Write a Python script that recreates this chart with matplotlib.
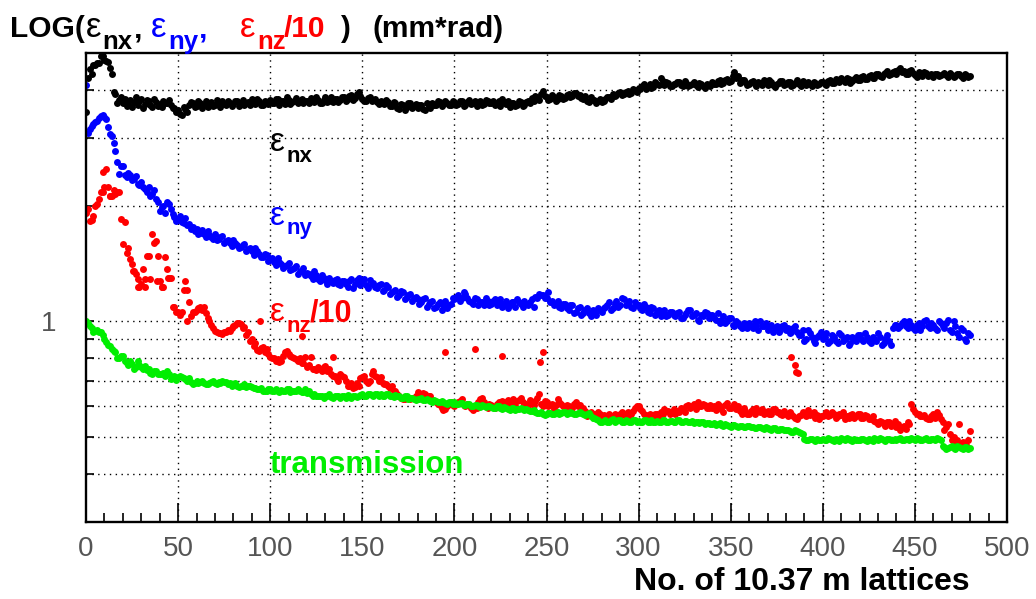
import numpy as np
import matplotlib
matplotlib.use('Agg')
import matplotlib.pyplot as plt
from matplotlib.ticker import FixedLocator, NullLocator, MultipleLocator

plt.rcParams['font.family'] = ['Liberation Sans', 'DejaVu Sans']

# lattice numbers: even and odd samples are kept in separate lists
lattice = np.arange(0, 481, 2)
lattice_odd = np.arange(1, 480, 2)

# normalised horizontal emittance (mm*rad)
eps_nx = [
    3.51, 4.55, 4.66, 4.72, 4.92, 4.80, 4.74, 4.40, 3.90, 3.78,
    3.70, 3.64, 3.78, 3.72, 3.66, 3.80, 3.69, 3.75, 3.62, 3.73,
    3.68, 3.76, 3.71, 3.65, 3.60, 3.55, 3.45, 3.58, 3.66, 3.70,
    3.64, 3.70, 3.67, 3.62, 3.72, 3.66, 3.69, 3.74, 3.65, 3.71,
    3.68, 3.76, 3.70, 3.66, 3.73, 3.79, 3.69, 3.74, 3.67, 3.72,
    3.77, 3.70, 3.80, 3.74, 3.68, 3.78, 3.72, 3.82, 3.75, 3.70,
    3.76, 3.81, 3.73, 3.78, 3.70, 3.83, 3.76, 3.72, 3.80, 3.77,
    3.84, 3.79, 3.88, 3.82, 3.96, 3.80, 3.74, 3.85, 3.78, 3.72,
    3.76, 3.69, 3.73, 3.64, 3.70, 3.58, 3.66, 3.62, 3.71, 3.63,
    3.60, 3.67, 3.56, 3.64, 3.70, 3.66, 3.73, 3.68, 3.71, 3.65,
    3.72, 3.68, 3.75, 3.66, 3.78, 3.70, 3.64, 3.74, 3.69, 3.76,
    3.71, 3.66, 3.74, 3.79, 3.68, 3.62, 3.70, 3.65, 3.72, 3.67,
    3.75, 3.81, 3.86, 3.78, 3.99, 3.83, 3.79, 3.84, 3.80, 3.86,
    3.82, 3.90, 3.86, 3.93, 3.88, 3.80, 3.76, 3.83, 3.78, 3.74,
    3.72, 3.79, 3.85, 3.92, 3.88, 3.95, 3.90, 3.97, 3.93, 4.00,
    4.06, 4.10, 4.03, 4.14, 4.08, 4.16, 4.31, 4.12, 4.18, 4.09,
    4.15, 4.21, 4.11, 4.18, 4.13, 4.20, 4.08, 4.16, 4.06, 4.12,
    4.20, 4.14, 4.24, 4.18, 4.28, 4.22, 4.47, 4.36, 4.25, 4.19,
    4.15, 4.22, 4.10, 4.18, 4.24, 4.13, 4.20, 4.08, 4.17, 4.22,
    4.14, 4.19, 4.12, 4.24, 4.09, 4.16, 4.21, 4.11, 4.18, 4.14,
    4.20, 4.12, 4.26, 4.17, 4.23, 4.30, 4.19, 4.27, 4.22, 4.33,
    4.26, 4.35, 4.29, 4.38, 4.31, 4.40, 4.34, 4.44, 4.37, 4.47,
    4.42, 4.58, 4.49, 4.41, 4.52, 4.38, 4.45, 4.36, 4.43, 4.39,
    4.34, 4.41, 4.37, 4.44, 4.32, 4.39, 4.35, 4.42, 4.30, 4.38,
    4.36,
]
eps_nx_odd = [
    4.30, 4.41, 4.64, 4.70, 4.90, 4.76, 4.58, 3.96, 3.70, 3.84,
    3.80, 3.68, 3.62, 3.84, 3.74, 3.60, 3.78, 3.66, 3.80, 3.64,
    3.62, 3.70, 3.78, 3.60, 3.52, 3.47, 3.62, 3.52, 3.72, 3.62,
    3.74, 3.60, 3.76, 3.70, 3.63, 3.78, 3.62, 3.68, 3.75, 3.64,
    3.74, 3.64, 3.78, 3.70, 3.66, 3.72, 3.80, 3.66, 3.76, 3.68,
    3.70, 3.80, 3.66, 3.76, 3.83, 3.68, 3.76, 3.70, 3.80, 3.76,
    3.70, 3.76, 3.84, 3.70, 3.78, 3.72, 3.84, 3.80, 3.72, 3.83,
    3.76, 3.86, 3.78, 3.92, 3.86, 3.76, 3.82, 3.74, 3.80, 3.68,
    3.70, 3.78, 3.64, 3.72, 3.60, 3.68, 3.56, 3.70, 3.60, 3.68,
    3.66, 3.58, 3.70, 3.60, 3.66, 3.74, 3.64, 3.74, 3.66, 3.74,
    3.66, 3.76, 3.64, 3.72, 3.68, 3.76, 3.70, 3.66, 3.78, 3.70,
    3.76, 3.70, 3.64, 3.72, 3.76, 3.70, 3.64, 3.76, 3.64, 3.72,
    3.70, 3.76, 3.82, 3.90, 3.86, 3.78, 3.88, 3.76, 3.88, 3.80,
    3.88, 3.84, 3.94, 3.86, 3.82, 3.86, 3.72, 3.78, 3.70, 3.80,
    3.76, 3.84, 3.80, 3.86, 3.94, 3.88, 3.95, 3.92, 4.02, 3.96,
    4.02, 4.14, 4.08, 4.06, 4.20, 4.12, 4.22, 4.20, 4.10, 4.16,
    4.20, 4.12, 4.22, 4.10, 4.16, 4.12, 4.18, 4.10, 4.16, 4.10,
    4.16, 4.22, 4.16, 4.26, 4.20, 4.36, 4.30, 4.18, 4.24, 4.12,
    4.20, 4.14, 4.20, 4.12, 4.20, 4.24, 4.12, 4.16, 4.22, 4.12,
    4.20, 4.10, 4.18, 4.16, 4.22, 4.12, 4.15, 4.20, 4.12, 4.20,
    4.16, 4.22, 4.18, 4.28, 4.20, 4.24, 4.30, 4.18, 4.28, 4.25,
    4.32, 4.28, 4.36, 4.30, 4.42, 4.36, 4.40, 4.48, 4.40, 4.50,
    4.52, 4.46, 4.40, 4.48, 4.44, 4.34, 4.40, 4.46, 4.36, 4.42,
    4.40, 4.36, 4.42, 4.38, 4.44, 4.34, 4.40, 4.36, 4.40, 4.34,
]

# normalised vertical emittance (mm*rad)
eps_ny = [
    4.13, 3.17, 3.27, 3.33, 3.43, 3.40, 3.20, 3.03, 2.78, 2.42,
    2.54, 2.38, 2.40, 2.35, 2.28, 2.30, 2.21, 2.24, 2.15, 2.08,
    1.94, 2.00, 2.05, 1.96, 1.87, 1.84, 1.81, 1.86, 1.79, 1.76,
    1.74, 1.70, 1.69, 1.72, 1.66, 1.69, 1.64, 1.67, 1.62, 1.60,
    1.63, 1.58, 1.56, 1.59, 1.54, 1.52, 1.55, 1.50, 1.47, 1.49,
    1.45, 1.43, 1.46, 1.41, 1.39, 1.42, 1.37, 1.39, 1.35, 1.38,
    1.34, 1.31, 1.35, 1.29, 1.32, 1.28, 1.30, 1.26, 1.29, 1.24,
    1.27, 1.23, 1.29, 1.25, 1.30, 1.27, 1.24, 1.28, 1.26, 1.22,
    1.25, 1.21, 1.23, 1.19, 1.21, 1.17, 1.19, 1.16, 1.18, 1.15,
    1.14, 1.12, 1.15, 1.11, 1.13, 1.09, 1.12, 1.10, 1.08, 1.11,
    1.14, 1.17, 1.15, 1.18, 1.13, 1.11, 1.14, 1.12, 1.10, 1.13,
    1.11, 1.14, 1.12, 1.09, 1.13, 1.10, 1.12, 1.14, 1.11, 1.13,
    1.10, 1.14, 1.16, 1.18, 1.17, 1.15, 1.12, 1.10, 1.13, 1.08,
    1.11, 1.07, 1.10, 1.06, 1.09, 1.05, 1.08, 1.03, 1.06, 1.08,
    1.06, 1.09, 1.12, 1.08, 1.13, 1.10, 1.14, 1.11, 1.09, 1.12,
    1.10, 1.07, 1.09, 1.05, 1.08, 1.06, 1.03, 1.07, 1.04, 1.06,
    1.03, 1.06, 1.02, 1.05, 1.07, 1.04, 1.01, 1.04, 1.06, 1.02,
    1.04, 1.01, 0.99, 1.03, 1.00, 1.02, 0.97, 0.99, 0.96, 0.98,
    0.99, 0.96, 0.98, 1.00, 0.97, 0.95, 0.98, 0.96, 0.94, 0.97,
    0.95, 0.93, 0.96, 0.94, 0.92, 0.89, 0.95, 0.91, 0.88, 0.92,
    0.90, 0.93, 0.89, 0.91, 0.88, 0.92, 0.90, 0.87, 0.91, 0.89,
    0.92, 0.89, 0.91, 0.88, 0.90, 0.93, 0.87, 0.90, 0.89, 0.96,
    0.98, 0.97, 1.00, 0.96, 0.98, 0.95, 0.99, 0.97, 1.01, 0.96,
    0.98, 0.95, 0.99, 0.96, 1.01, 0.94, 0.97, 0.91, 0.95, 0.89,
    0.92,
]
eps_ny_odd = [
    3.10, 3.22, 3.30, 3.38, 3.45, 3.37, 3.08, 2.92, 2.60, 2.54,
    2.40, 2.44, 2.34, 2.39, 2.26, 2.24, 2.17, 2.12, 2.20, 2.05,
    1.98, 1.92, 2.02, 1.90, 1.83, 1.88, 1.80, 1.78, 1.74, 1.72,
    1.69, 1.73, 1.66, 1.68, 1.64, 1.63, 1.66, 1.60, 1.63, 1.57,
    1.60, 1.55, 1.58, 1.52, 1.55, 1.49, 1.52, 1.47, 1.50, 1.44,
    1.46, 1.40, 1.43, 1.38, 1.40, 1.36, 1.38, 1.33, 1.35, 1.32,
    1.33, 1.29, 1.32, 1.27, 1.30, 1.25, 1.27, 1.28, 1.25, 1.27,
    1.25, 1.27, 1.22, 1.28, 1.24, 1.29, 1.22, 1.25, 1.23, 1.24,
    1.20, 1.24, 1.18, 1.20, 1.16, 1.20, 1.14, 1.17, 1.13, 1.16,
    1.11, 1.14, 1.09, 1.12, 1.08, 1.11, 1.07, 1.13, 1.10, 1.15,
    1.16, 1.13, 1.19, 1.15, 1.12, 1.15, 1.10, 1.12, 1.15, 1.10,
    1.13, 1.10, 1.14, 1.11, 1.08, 1.12, 1.09, 1.12, 1.09, 1.11,
    1.12, 1.09, 1.15, 1.17, 1.15, 1.19, 1.13, 1.11, 1.09, 1.11,
    1.08, 1.10, 1.05, 1.08, 1.04, 1.07, 1.05, 1.07, 1.04, 1.07,
    1.08, 1.10, 1.07, 1.11, 1.09, 1.15, 1.10, 1.13, 1.08, 1.10,
    1.08, 1.11, 1.06, 1.09, 1.04, 1.07, 1.05, 1.03, 1.06, 1.04,
    1.05, 1.02, 1.04, 1.07, 1.03, 1.05, 1.00, 1.03, 1.05, 1.04,
    1.02, 1.05, 1.01, 0.99, 1.02, 0.98, 1.00, 0.97, 0.99, 0.96,
    0.97, 1.00, 0.95, 0.97, 0.99, 0.96, 0.94, 0.97, 0.95, 0.98,
    0.96, 0.94, 0.97, 0.92, 0.95, 0.90, 0.93, 0.89, 0.91, 0.94,
    0.91, 0.88, 0.92, 0.89, 0.93, 0.89, 0.91, 0.88, 0.90, 0.92,
    0.90, 0.93, 0.89, 0.91, 0.89, 0.91, 0.88, 0.92, 0.87, 0.98,
    0.96, 0.99, 0.97, 1.00, 0.96, 0.98, 0.95, 1.00, 0.97, 0.99,
    0.96, 1.00, 0.97, 0.99, 0.95, 1.00, 0.93, 0.96, 0.90, 0.93,
]

# longitudinal emittance / 10 (mm*rad)
eps_nz = [
    1.92, 1.82, 1.88, 2.02, 2.17, 2.24, 2.24, 2.12, 2.15, 2.17,
    1.59, 1.51, 1.45, 1.35, 1.29, 1.25, 1.29, 1.48, 1.69, 1.62,
    1.27, 1.23, 1.37, 1.30, 1.09, 1.06, 1.06, 1.27, 1.12, 1.06,
    1.07, 1.09, 1.09, 1.02, 0.98, 0.945, 0.93, 0.925, 0.936, 0.945,
    0.97, 0.99, 0.985, 0.965, 0.936, 0.90, 0.88, 0.835, 0.855, 0.845,
    0.805, 0.80, 0.796, 0.786, 0.83, 0.82, 0.805, 0.796, 0.80, 0.78,
    0.758, 0.805, 0.75, 0.76, 0.741, 0.763, 0.75, 0.72, 0.706, 0.73,
    0.714, 0.677, 0.69, 0.673, 0.68, 0.718, 0.70, 0.697, 0.741, 0.714,
    0.714, 0.685, 0.68, 0.677, 0.657, 0.64, 0.626, 0.635, 0.626, 0.63,
    0.653, 0.64, 0.645, 0.637, 0.625, 0.615, 0.605, 0.589, 0.60, 0.615,
    0.60, 0.615, 0.626, 0.60, 0.605, 0.589, 0.595, 0.626, 0.615, 0.596,
    0.605, 0.596, 0.615, 0.62, 0.60, 0.61, 0.626, 0.62, 0.63, 0.60,
    0.60, 0.615, 0.62, 0.645, 0.60, 0.615, 0.605, 0.59, 0.626, 0.61,
    0.589, 0.60, 0.596, 0.615, 0.605, 0.596, 0.566, 0.58, 0.572, 0.58,
    0.562, 0.555, 0.572, 0.566, 0.56, 0.575, 0.57, 0.58, 0.572, 0.595,
    0.60, 0.585, 0.566, 0.575, 0.56, 0.572, 0.58, 0.59, 0.585, 0.58,
    0.575, 0.58, 0.589, 0.60, 0.595, 0.61, 0.615, 0.60, 0.605, 0.595,
    0.596, 0.589, 0.60, 0.58, 0.612, 0.595, 0.61, 0.60, 0.575, 0.585,
    0.572, 0.59, 0.596, 0.58, 0.572, 0.585, 0.575, 0.59, 0.58, 0.57,
    0.572, 0.58, 0.565, 0.555, 0.57, 0.575, 0.589, 0.575, 0.56, 0.555,
    0.565, 0.58, 0.57, 0.575, 0.565, 0.57, 0.555, 0.56, 0.572, 0.565,
    0.572, 0.56, 0.565, 0.558, 0.55, 0.54, 0.548, 0.535, 0.545, 0.54,
    0.53, 0.522, 0.535, 0.548, 0.61, 0.58, 0.572, 0.566, 0.56, 0.558,
    0.575, 0.58, 0.555, 0.52, 0.54, 0.49, 0.485, 0.54, 0.485, 0.475,
    0.518,
]
eps_nz_odd = [
    1.96, 1.84, 2.00, 2.08, 2.45, 2.49, 2.12, 2.20, 2.17, 1.85,
    1.81, 1.55, 1.41, 1.33, 1.23, 1.37, 1.48, 1.29, 1.60, 1.48,
    1.23, 1.47, 1.30, 1.09, 1.06, 1.04, 1.21, 1.00, 1.03, 1.06,
    1.08, 1.07, 1.05, 1.00, 0.96, 0.935, 0.93, 0.94, 0.95, 0.96,
    0.98, 0.99, 0.96, 0.92, 0.89, 0.86, 0.84, 0.85, 0.83, 0.82,
    0.80, 0.79, 0.785, 0.81, 0.835, 0.81, 0.80, 0.79, 0.78, 0.805,
    0.77, 0.75, 0.745, 0.75, 0.76, 0.74, 0.73, 0.72, 0.70, 0.72,
    0.70, 0.68, 0.67, 0.69, 0.71, 0.72, 0.69, 0.73, 0.72, 0.70,
    0.69, 0.685, 0.67, 0.66, 0.645, 0.63, 0.628, 0.63, 0.632, 0.64,
    0.648, 0.65, 0.635, 0.64, 0.62, 0.61, 0.595, 0.59, 0.61, 0.605,
    0.61, 0.62, 0.605, 0.61, 0.595, 0.60, 0.615, 0.63, 0.605, 0.61,
    0.598, 0.61, 0.605, 0.615, 0.622, 0.61, 0.60, 0.625, 0.615, 0.61,
    0.622, 0.605, 0.63, 0.61, 0.62, 0.60, 0.61, 0.605, 0.615, 0.60,
    0.605, 0.59, 0.61, 0.60, 0.59, 0.585, 0.575, 0.57, 0.565, 0.575,
    0.57, 0.56, 0.56, 0.575, 0.565, 0.58, 0.575, 0.568, 0.585, 0.60,
    0.59, 0.575, 0.57, 0.565, 0.575, 0.565, 0.575, 0.585, 0.575, 0.59,
    0.585, 0.595, 0.58, 0.605, 0.60, 0.59, 0.60, 0.61, 0.595, 0.605,
    0.60, 0.61, 0.59, 0.605, 0.595, 0.60, 0.59, 0.585, 0.595, 0.575,
    0.585, 0.575, 0.585, 0.59, 0.58, 0.572, 0.59, 0.58, 0.575, 0.585,
    0.565, 0.575, 0.56, 0.565, 0.58, 0.565, 0.57, 0.58, 0.57, 0.565,
    0.575, 0.565, 0.58, 0.56, 0.575, 0.58, 0.565, 0.57, 0.56, 0.572,
    0.56, 0.57, 0.555, 0.565, 0.545, 0.55, 0.54, 0.545, 0.535, 0.55,
    0.54, 0.53, 0.525, 0.54, 0.59, 0.575, 0.565, 0.57, 0.555, 0.565,
    0.56, 0.57, 0.545, 0.53, 0.51, 0.50, 0.49, 0.48, 0.48, 0.49,
]
# isolated points off the main band
eps_nz_extra_x = [9, 13, 25.5, 28, 32, 38.5, 41, 44.5, 55, 94.5, 117, 134,
                  195, 211, 226, 246.5, 248, 383, 385, 385.5, 386.5]
eps_nz_extra = [2.17, 2.12, 1.35, 1.23, 1.23, 1.27, 1.23, 1.30, 1.21, 1.00,
                0.914, 0.805, 0.83, 0.845, 0.81, 0.785, 0.83, 0.805, 0.768,
                0.736, 0.732]

# beam transmission
transmission = [
    1.00, 0.97, 0.936, 0.95, 0.936, 0.90, 0.87, 0.845, 0.83, 0.80,
    0.81, 0.78, 0.786, 0.75, 0.786, 0.758, 0.763, 0.75, 0.727, 0.741,
    0.727, 0.735, 0.741, 0.706, 0.72, 0.718, 0.718, 0.706, 0.71, 0.685,
    0.697, 0.693, 0.69, 0.685, 0.693, 0.69, 0.693, 0.70, 0.693, 0.69,
    0.685, 0.68, 0.677, 0.685, 0.68, 0.673, 0.67, 0.665, 0.66, 0.657,
    0.665, 0.66, 0.657, 0.662, 0.657, 0.665, 0.66, 0.657, 0.66, 0.655,
    0.65, 0.645, 0.645, 0.637, 0.64, 0.637, 0.645, 0.633, 0.64, 0.633,
    0.637, 0.642, 0.633, 0.64, 0.637, 0.645, 0.64, 0.648, 0.64, 0.645,
    0.645, 0.64, 0.648, 0.637, 0.643, 0.637, 0.632, 0.64, 0.63, 0.628,
    0.626, 0.63, 0.622, 0.625, 0.618, 0.62, 0.615, 0.618, 0.61, 0.615,
    0.615, 0.61, 0.612, 0.605, 0.608, 0.60, 0.605, 0.598, 0.602, 0.60,
    0.598, 0.596, 0.60, 0.592, 0.596, 0.589, 0.594, 0.59, 0.596, 0.588,
    0.589, 0.585, 0.58, 0.578, 0.575, 0.572, 0.578, 0.575, 0.58, 0.576,
    0.58, 0.576, 0.578, 0.574, 0.58, 0.575, 0.572, 0.565, 0.56, 0.552,
    0.545, 0.552, 0.548, 0.555, 0.55, 0.552, 0.546, 0.55, 0.548, 0.553,
    0.55, 0.546, 0.552, 0.548, 0.545, 0.55, 0.548, 0.552, 0.545, 0.549,
    0.548, 0.552, 0.545, 0.55, 0.546, 0.542, 0.548, 0.545, 0.54, 0.544,
    0.54, 0.537, 0.542, 0.535, 0.538, 0.532, 0.536, 0.53, 0.535, 0.532,
    0.535, 0.53, 0.527, 0.532, 0.525, 0.528, 0.522, 0.526, 0.52, 0.524,
    0.52, 0.517, 0.515, 0.518, 0.512, 0.495, 0.49, 0.494, 0.489, 0.492,
    0.495, 0.49, 0.493, 0.488, 0.492, 0.496, 0.49, 0.494, 0.488, 0.492,
    0.49, 0.494, 0.488, 0.492, 0.496, 0.49, 0.493, 0.488, 0.495, 0.49,
    0.492, 0.496, 0.49, 0.494, 0.498, 0.49, 0.495, 0.492, 0.496, 0.49,
    0.494, 0.497, 0.49, 0.47, 0.468, 0.472, 0.466, 0.47, 0.465, 0.47,
    0.468,
]
transmission_odd = [
    0.99, 0.96, 0.945, 0.94, 0.92, 0.885, 0.86, 0.835, 0.80, 0.81,
    0.79, 0.77, 0.775, 0.76, 0.77, 0.75, 0.745, 0.735, 0.74, 0.73,
    0.73, 0.72, 0.73, 0.715, 0.705, 0.72, 0.71, 0.70, 0.695, 0.69,
    0.69, 0.70, 0.685, 0.69, 0.70, 0.685, 0.69, 0.695, 0.685, 0.68,
    0.69, 0.675, 0.68, 0.675, 0.68, 0.67, 0.665, 0.67, 0.66, 0.665,
    0.66, 0.665, 0.655, 0.66, 0.665, 0.655, 0.66, 0.665, 0.655, 0.665,
    0.66, 0.64, 0.637, 0.64, 0.63, 0.64, 0.635, 0.64, 0.637, 0.64,
    0.632, 0.64, 0.638, 0.635, 0.642, 0.638, 0.645, 0.642, 0.648, 0.64,
    0.64, 0.645, 0.64, 0.635, 0.64, 0.633, 0.637, 0.628, 0.633, 0.622,
    0.628, 0.622, 0.628, 0.62, 0.622, 0.615, 0.62, 0.612, 0.618, 0.61,
    0.61, 0.614, 0.606, 0.61, 0.603, 0.607, 0.60, 0.604, 0.598, 0.603,
    0.594, 0.60, 0.595, 0.598, 0.592, 0.596, 0.588, 0.592, 0.59, 0.592,
    0.584, 0.588, 0.576, 0.582, 0.57, 0.576, 0.572, 0.578, 0.574, 0.58,
    0.575, 0.58, 0.572, 0.578, 0.576, 0.57, 0.576, 0.56, 0.556, 0.548,
    0.55, 0.546, 0.552, 0.548, 0.554, 0.548, 0.552, 0.546, 0.552, 0.548,
    0.546, 0.552, 0.548, 0.552, 0.548, 0.545, 0.552, 0.548, 0.55, 0.546,
    0.552, 0.547, 0.55, 0.545, 0.55, 0.546, 0.543, 0.548, 0.544, 0.54,
    0.542, 0.54, 0.536, 0.54, 0.534, 0.538, 0.533, 0.535, 0.53, 0.534,
    0.532, 0.528, 0.532, 0.526, 0.53, 0.524, 0.528, 0.522, 0.525, 0.52,
    0.522, 0.515, 0.52, 0.514, 0.508, 0.492, 0.495, 0.49, 0.494, 0.49,
    0.492, 0.496, 0.49, 0.494, 0.489, 0.493, 0.496, 0.49, 0.494, 0.49,
    0.493, 0.49, 0.495, 0.489, 0.493, 0.496, 0.49, 0.494, 0.49, 0.493,
    0.495, 0.49, 0.494, 0.49, 0.493, 0.496, 0.49, 0.494, 0.49, 0.495,
    0.49, 0.494, 0.472, 0.466, 0.47, 0.468, 0.472, 0.467, 0.47, 0.466,
]

x_ticks = [0, 50, 100, 150, 200, 250, 300, 350, 400, 450, 500]
y_grid = [0.4, 0.5, 0.6, 0.7, 0.8, 0.9, 1, 2, 3, 4]

W, H = 1036, 599
fig = plt.figure(figsize=(W / 100, H / 100), dpi=100)
ax = fig.add_axes([86 / W, (H - 522) / H, (1007 - 86) / W, (522 - 53) / H])

ms = 5.0
series = [
    (lattice, eps_nx, 'black'), (lattice_odd, eps_nx_odd, 'black'),
    (lattice, eps_ny, '#0000ff'), (lattice_odd, eps_ny_odd, '#0000ff'),
    (lattice, eps_nz, '#ff0000'), (lattice_odd, eps_nz_odd, '#ff0000'),
    (eps_nz_extra_x, eps_nz_extra, '#ff0000'),
    (lattice, transmission, '#00ee00'),
    (lattice_odd, transmission_odd, '#00ee00'),
]
for xs, ys, c in series:
    ax.plot(xs, ys, 'o', color=c, ms=ms, mec='none')

ax.set_yscale('log')
ax.set_xlim(0, 500)
ax.set_ylim(0.3, 5)

# dotted grid
for v in y_grid:
    ax.axhline(v, color='black', lw=1.0, ls=(0, (1, 3.2)), zorder=0.5)
for v in x_ticks[1:-1]:
    ax.axvline(v, color='black', lw=1.0, ls=(0, (1, 3.2)), zorder=0.5)

ax.yaxis.set_major_locator(FixedLocator(y_grid))
ax.yaxis.set_minor_locator(NullLocator())
ax.set_yticks(y_grid, labels=['1' if v == 1 else '' for v in y_grid],
              fontsize=20, color='#555555')
ax.set_xticks(x_ticks, labels=[str(v) for v in x_ticks],
              fontsize=20, color='#555555')
ax.xaxis.set_minor_locator(MultipleLocator(10))
ax.tick_params(axis='x', which='major', direction='in', length=14, width=1.2,
               pad=10, top=False)
ax.tick_params(axis='x', which='minor', direction='in', length=6.5, width=1.2,
               top=False)
ax.tick_params(axis='y', which='major', direction='in', length=6, width=1.2,
               pad=21, right=False)
for s in ax.spines.values():
    s.set_linewidth(1.7)


def put(px, py, s, color='black', size=21.5, weight='bold'):
    fig.text(px / W, 1 - py / H, s, color=color, fontsize=size,
             fontweight=weight, ha='left', va='baseline')


# heading
put(10, 37, 'LOG(')
put(86, 37, 'ε', size=25, weight='normal')
put(102, 49, 'nx', size=18.5)
put(134, 37, ',')
put(151, 37, 'ε', color='#0000ff', size=25, weight='normal')
put(168, 49, 'ny', color='#0000ff', size=18.5)
put(199, 37, ',', color='#0000ff')
put(240, 37, 'ε', color='#ff0000', size=25, weight='normal')
put(257, 49, 'nz', color='#ff0000', size=18.5)
put(284, 37, '/10', color='#ff0000')
put(340, 37, ')')
put(373, 37, '(mm*rad)')

# curve labels
put(270, 151, 'ε', size=24, weight='normal')
put(287, 162, 'nx', size=16)
put(270, 225, 'ε', color='#0000ff', size=24, weight='normal')
put(287, 234, 'ny', color='#0000ff', size=16)
put(270, 321, 'ε', color='#ff0000', size=24, weight='normal')
put(287, 332, 'nz', color='#ff0000', size=16)
put(310, 321, '/10', color='#ff0000', size=22)
put(270, 473, 'transmission', color='#00ee00', size=22.5)

fig.text(970 / W, 1 - 590 / H, 'No. of 10.37 m lattices', ha='right',
         va='baseline', fontsize=23, fontweight='bold')

fig.savefig('out.png', dpi=100)
